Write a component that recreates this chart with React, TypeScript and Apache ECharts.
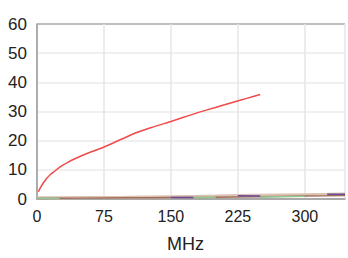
import React, { useEffect, useRef } from "react";
import * as echarts from "echarts";

const redFreq = [1.5, 4, 8, 11, 15, 20, 24, 29, 34, 43, 52, 61, 71, 86, 107, 128, 150, 165, 181, 200, 218, 235, 250];
const redValues = [2.5, 4.0, 5.9, 7.1, 8.4, 9.6, 10.6, 11.6, 12.5, 13.9, 15.1, 16.2, 17.3, 19.3, 22.2, 24.5, 26.6, 28.1, 29.7, 31.4, 33.0, 34.5, 35.8];

const lowFreq = [0, 25, 50, 75, 100, 125, 150, 175, 200, 225, 250, 275, 300, 325, 345];
const brownValues = [0.2, 0.25, 0.3, 0.35, 0.4, 0.45, 0.5, 0.55, 0.6, 0.7, 0.8, 0.9, 1.0, 1.1, 1.2];
const tanValues = [0.4, 0.45, 0.5, 0.55, 0.6, 0.7, 0.8, 0.9, 1.0, 1.2, 1.3, 1.4, 1.5, 1.6, 1.7];
const purpleValues = [null, null, null, null, null, null, 0.5, 0.5, null, 1.1, 1.0, null, null, 1.6, 1.6];
const greenValues = [0.3, 0.3, null, null, null, null, null, 0.5, 0.5, null, 0.7, 0.8, 0.9, null, null];

const xTicks = [0, 75, 150, 225, 300];
const yMax = 60;

export default function App() {
  const ref = useRef<HTMLDivElement>(null);
  useEffect(() => {
    const chart = echarts.init(ref.current!, null, { renderer: "svg" });
    const pair = (xs: number[], ys: (number | null)[]) => xs.map((x, i) => [x, ys[i]]);
    chart.setOption({
      animation: false,
      grid: { left: 37, top: 24, right: 0, bottom: 53 },
      xAxis: {
        type: "value",
        min: 0,
        max: 345,
        interval: 75,
        name: "MHz",
        nameLocation: "middle",
        nameGap: 36,
        nameTextStyle: { fontSize: 18, color: "#222", fontFamily: "Liberation Sans", padding: [0, 11, 0, 0] },
        axisLine: { show: true, lineStyle: { color: "#999", width: 1.5 } },
        axisTick: { show: false },
        axisLabel: {
          fontSize: 16,
          color: "#222",
          fontFamily: "Liberation Sans",
          margin: 9,
          formatter: (v: number) => (xTicks.includes(v) ? String(v) : ""),
        },
        splitLine: { show: true, lineStyle: { color: "#e6e6e6", width: 1.5 } },
      },
      yAxis: {
        type: "value",
        min: 0,
        max: yMax,
        interval: 10,
        axisLine: { show: true, lineStyle: { color: "#999", width: 1.5 } },
        axisTick: { show: false },
        axisLabel: { fontSize: 17, color: "#222", fontFamily: "Liberation Sans", margin: 10 },
        splitLine: {
          show: true,
          lineStyle: { color: ["#ccc", "#ebebeb", "#ebebeb", "#ebebeb", "#ebebeb", "#ebebeb", "#aaa"], width: 1.5 },
        },
      },
      series: [
        {
          type: "line",
          data: pair(lowFreq, tanValues),
          symbol: "none",
          lineStyle: { color: "#dcc2b2", width: 3 },
        },
        {
          type: "line",
          data: pair(lowFreq, brownValues),
          symbol: "none",
          lineStyle: { color: "#a0705a", width: 1.5 },
        },
        {
          type: "line",
          data: pair(lowFreq, greenValues),
          symbol: "none",
          connectNulls: false,
          lineStyle: { color: "#90c890", width: 1.5 },
        },
        {
          type: "line",
          data: pair(lowFreq, purpleValues),
          symbol: "none",
          connectNulls: false,
          lineStyle: { color: "#6a4a9a", width: 1.5 },
        },
        {
          type: "line",
          data: pair(redFreq, redValues),
          symbol: "none",
          smooth: 0.2,
          lineStyle: { color: "#f04a4a", width: 1.5 },
        },
      ],
    });
    return () => chart.dispose();
  }, []);
  return <div ref={ref} style={{ width: 348, height: 258, position: "absolute", left: 0, top: 0 }} />;
}
